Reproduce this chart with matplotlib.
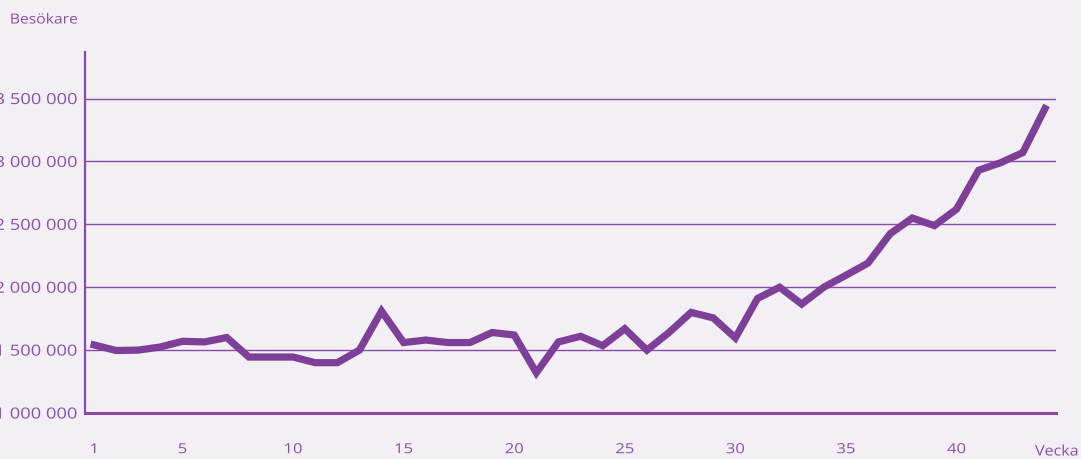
import matplotlib
matplotlib.use("Agg")
import matplotlib.pyplot as plt
from matplotlib.ticker import FuncFormatter
from matplotlib.patheffects import AbstractPathEffect
from matplotlib.transforms import Affine2D

weeks = list(range(1, 45))
visitors = [
    1541000, 1497000, 1500000, 1525000, 1570000, 1565000, 1600000, 1445000,
    1445000, 1445000, 1400000, 1400000, 1500000, 1810000, 1560000, 1580000,
    1560000, 1560000, 1640000, 1620000, 1320000, 1565000, 1610000, 1535000,
    1670000, 1500000, 1640000, 1800000, 1756000, 1597000, 1910000, 2000000,
    1866000, 2000000, 2095000, 2192000, 2425000, 2550000, 2490000, 2620000,
    2930000, 2990000, 3070000, 3420000,
]
xticks = [1, 5, 10, 15, 20, 25, 30, 35, 40]
yticks = [1000000, 1500000, 2000000, 2500000, 3000000, 3500000]
y_label = "Besökare"
x_label = "Vecka"

BG = "#F2EFF5"
LINE = "#7D3F98"
AXC = "#8A4BA6"
TXT = "#8E4FAA"


class HStretch(AbstractPathEffect):
    """Widen glyphs horizontally around an anchor (imitates the wide, tracked type)."""

    def __init__(self, sx, anchor="left"):
        super().__init__()
        self.sx = sx
        self.anchor = anchor

    def draw_path(self, renderer, gc, tpath, affine, rgbFace=None):
        ext = tpath.get_extents()
        if self.anchor == "right":
            x0 = ext.x1
        elif self.anchor == "center":
            x0 = 0.5 * (ext.x0 + ext.x1)
        else:
            x0 = ext.x0
        t = Affine2D().translate(-x0, 0).scale(self.sx, 1.0).translate(x0, 0) + affine
        renderer.draw_path(gc, tpath, t, rgbFace)


plt.rcParams["font.family"] = ["Open Sans", "DejaVu Sans"]

fig = plt.figure(figsize=(10.81, 4.59), dpi=100, facecolor=BG)
ax = fig.add_axes([85 / 1081, 46 / 459, 971 / 1081, 361 / 459])
ax.set_facecolor(BG)

for v in yticks[1:]:
    ax.axhline(v, color=AXC, lw=1.0, zorder=1)

ax.plot(weeks, visitors, color=LINE, lw=5.2, solid_joinstyle="miter", zorder=3)

ax.set_xlim(0.59, 44.5)
ax.set_ylim(1000000, 3870000)
ax.set_xticks(xticks)
ax.set_yticks(yticks)
ax.yaxis.set_major_formatter(FuncFormatter(lambda v, p: f"{int(v):,}".replace(",", " ")))

for s in ["top", "right"]:
    ax.spines[s].set_visible(False)
ax.spines["left"].set_color(AXC)
ax.spines["left"].set_linewidth(1.6)
ax.spines["bottom"].set_color(AXC)
ax.spines["bottom"].set_linewidth(2.2)

ax.tick_params(axis="y", length=0, colors=TXT, labelsize=11, pad=6)
ax.tick_params(axis="x", length=0, colors=TXT, labelsize=10, pad=21)

for lbl in ax.get_yticklabels():
    lbl.set_path_effects([HStretch(1.2, "right")])
for lbl in ax.get_xticklabels():
    lbl.set_path_effects([HStretch(1.2, "center")])

fig.text(10 / 1081, 1 - 20 / 459, y_label, color=TXT, fontsize=10, va="center", ha="left",
         path_effects=[HStretch(1.13, "left")])
fig.text(1035 / 1081, 1 - 452 / 459, x_label, color=TXT, fontsize=10.5, va="center", ha="left",
         path_effects=[HStretch(1.1, "left")])

fig.savefig("out.png", dpi=100, facecolor=BG)
